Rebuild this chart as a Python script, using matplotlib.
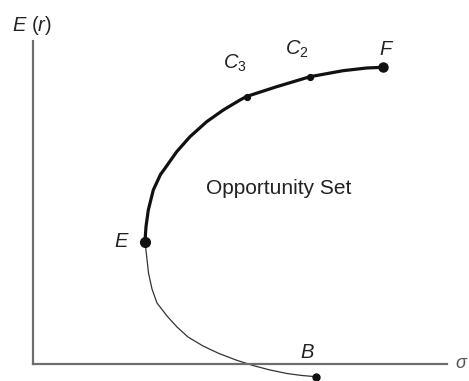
import matplotlib
matplotlib.use("Agg")
import matplotlib.pyplot as plt

plt.rcParams['font.family'] = ['Liberation Sans', 'DejaVu Sans']
plt.rcParams['mathtext.fontset'] = 'custom'
plt.rcParams['mathtext.it'] = 'Liberation Sans:italic'
plt.rcParams['mathtext.rm'] = 'Liberation Sans'

# Efficient (upper) part of the frontier, from E to F
upper_sigma = [112, 113, 115.3, 120.3, 127.5, 132, 143.7, 157, 173.7, 190.3, 207,
               213.5, 243.7, 277, 310, 333.7, 349.7]
upper_er = [123, 137.3, 154, 174, 189.5, 195.7, 212.3, 227.3, 242.3, 254, 264,
            267.5, 277.3, 287.3, 293.3, 296, 296.7]

# Inefficient (lower) part, from E to B
lower_sigma = [112, 113.7, 115.5, 119, 124, 134, 144, 155, 170, 186, 203, 220,
               237, 254, 269, 283]
lower_er = [122.5, 107.3, 91, 75, 61, 48, 37, 27, 18, 10.5, 4, -1.5, -6, -9.5,
            -11.5, -12.7]

# Labelled portfolios
names = ['E', 'C_3', 'C_2', 'F', 'B']
pt_sigma = [112, 213.5, 277, 349.7, 283]
pt_er = [122.5, 267.5, 287.3, 296.7, -12.7]
pt_size = [7.0, 4.2, 4.2, 6.5, 5.0]
label_dx = [-23, -12, -13, 4, -9]
label_dy = [0, 33, 27, 18, 24]

fig = plt.figure(figsize=(4.69, 3.81), dpi=100)
ax = fig.add_axes([0, 0, 1, 1])
ax.set_xlim(-33, 436)
ax.set_ylim(-17, 364)

for s in ['top', 'right']:
    ax.spines[s].set_visible(False)
ax.spines['left'].set_position(('data', 0))
ax.spines['bottom'].set_position(('data', 0))
ax.spines['left'].set_bounds(0, 323)
ax.spines['bottom'].set_bounds(0, 414)
for s in ['left', 'bottom']:
    ax.spines[s].set_color('#6e6e6e')
    ax.spines[s].set_linewidth(1.6)
ax.set_xticks([])
ax.set_yticks([])
ax.patch.set_alpha(0)

ax.plot(lower_sigma, lower_er, color='#333333', lw=0.9, solid_capstyle='round',
        solid_joinstyle='round')
ax.plot(upper_sigma, upper_er, color='#111111', lw=2.3, solid_capstyle='round',
        solid_joinstyle='round')

for n, x, y, ms, dx, dy in zip(names, pt_sigma, pt_er, pt_size, label_dx, label_dy):
    ax.plot([x], [y], 'o', color='#111111', ms=ms, zorder=5)
    ax.text(x + dx, y + dy, f'${n}$', fontsize=14.5, color='#222222',
            ha='center', va='center')

ax.text(-21, 338.5, r'$E\ (r)$', fontsize=14.5, color='#222222', ha='left', va='center')
ax.text(422, 1, r'$\sigma$', fontsize=13, color='#555555', ha='left', va='center')
ax.text(245.5, 176, 'Opportunity Set', fontsize=15, color='#222222',
        ha='center', va='center')

fig.savefig('out.png', dpi=100)
